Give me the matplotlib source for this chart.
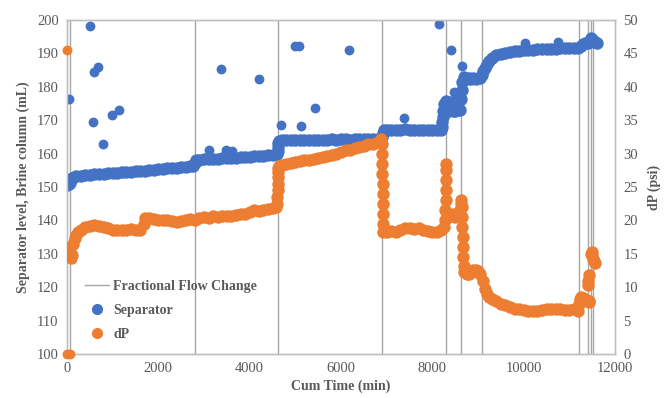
import matplotlib
matplotlib.use("Agg")
import matplotlib.pyplot as plt
from matplotlib.lines import Line2D

# ---- data ----
flow_change_min = [72, 2810, 4612, 6898, 8290, 8627, 9079, 11203, 11415, 11474, 11524]

# Separator level (mL), main track
sep_time = [0, 20, 40, 60, 80, 100, 150, 200, 300, 400, 500, 600, 700, 800, 900,
            1000, 1100, 1200, 1300, 1400, 1500, 1600, 1700, 1800, 1900, 2000,
            2100, 2200, 2300, 2400, 2500, 2600, 2700, 2760, 2800,
            2830, 2900, 3000, 3100, 3200, 3300, 3400, 3500, 3600, 3700, 3800,
            3900, 4000, 4100, 4200, 4300, 4400, 4500, 4590,
            4612, 4614, 4618, 4650, 4700, 4800, 4900, 5000, 5100, 5200, 5300,
            5400, 5500, 5600, 5700, 5800, 5900, 6000, 6100, 6200, 6300, 6400,
            6500, 6600, 6700, 6800, 6880,
            6900, 6910, 6950, 7000, 7100, 7200, 7300, 7400, 7500, 7600, 7700,
            7800, 7900, 8000, 8100, 8180,
            8210, 8220, 8230, 8240, 8250, 8300, 8350, 8400, 8450, 8500, 8550,
            8600, 8300, 8350, 8400, 8450, 8500, 8550, 8600,
            8630, 8640, 8650, 8700, 8750, 8800, 8850, 8900, 8950, 9000, 9050,
            9080, 9120, 9150, 9200, 9250, 9300, 9400, 9500, 9600, 9700, 9800,
            9900, 10000, 10100, 10200, 10300, 10400, 10500, 10600, 10700,
            10800, 10900, 11000, 11100, 11200,
            11250, 11300, 11350, 11400, 11450, 11480, 11520, 11560, 11600]
sep_level = [150.5, 151.3, 150.8, 151.2, 152.0, 152.6, 153.0, 153.2, 153.4, 153.6,
             153.7, 153.8, 153.9, 154.0, 154.1, 154.2, 154.3, 154.4, 154.5,
             154.6, 154.7, 154.8, 154.9, 155.0, 155.2, 155.4, 155.5, 155.6,
             155.7, 155.8, 155.9, 156.0, 156.2, 156.4, 157.2,
             158.0, 158.2, 158.3, 158.4, 158.4, 158.5, 158.6, 158.6, 158.7,
             158.8, 158.9, 159.0, 159.1, 159.2, 159.3, 159.4, 159.5, 159.6, 159.8,
             160.8, 162.0, 163.2, 163.8, 164.0, 164.0, 164.1, 164.0, 164.1,
             164.2, 164.1, 164.2, 164.2, 164.1, 164.2, 164.3, 164.2, 164.3,
             164.3, 164.2, 164.3, 164.4, 164.3, 164.4, 164.4, 164.3, 164.4,
             165.0, 166.2, 167.0, 167.1, 167.0, 167.2, 167.1, 167.3, 167.0,
             167.1, 167.0, 167.2, 167.0, 167.1, 167.0, 167.1,
             168.0, 169.5, 171.0, 172.8, 174.8, 175.8, 175.4, 175.6, 175.3,
             175.5, 175.8, 176.0, 172.6, 172.8, 173.0, 172.7, 172.9, 173.0, 173.2,
             176.5, 179.0, 181.5, 182.8, 182.4, 182.5, 182.3, 182.6, 182.4,
             182.5, 182.7, 183.4, 184.6, 185.6, 186.8, 187.8, 188.5, 189.4,
             189.9, 190.2, 190.4, 190.6, 190.8, 190.9, 191.0, 191.1, 191.2,
             191.3, 191.3, 191.4, 191.4, 191.5, 191.5, 191.6, 191.6, 191.7,
             192.3, 192.8, 193.0, 193.2, 193.5, 194.5, 194.0, 193.5, 193.1]

# Separator spikes away from the main track
sep_out_time = [50, 512, 569, 583, 670, 780, 977, 1145, 3120, 3480, 3620,
                3379, 4196, 4686, 4992, 5087, 5130, 5422, 6181, 7390,
                8152, 8408, 8470, 8640, 10035, 10760]
sep_out_level = [176.3, 198.2, 169.6, 184.4, 185.8, 162.9, 171.6, 173.1,
                 161.0, 161.0, 160.8, 185.3, 182.4, 168.7, 192.3, 192.3,
                 168.3, 173.6, 191.0, 170.6, 198.8, 191.0, 178.5, 186.3,
                 193.0, 193.3]

# dP (psi), isolated readings
dp_out_time = [0, 0, 60]
dp_out_psi = [45.5, 0.0, 0.0]

# dP (psi), main track
dp_time = [0, 30, 60, 90, 110, 140, 170, 200, 250, 300, 400, 500, 600,
           700, 800, 900, 1000, 1100, 1200, 1300, 1400, 1500, 1600, 1680,
           1700, 1800, 1900, 2000, 2100, 2200, 2300, 2400, 2500, 2600, 2700,
           2800, 2900, 3000, 3100, 3200, 3300, 3400, 3500, 3600, 3700, 3800,
           3900, 4000, 4100, 4200, 4300, 4400, 4500, 4580,
           4605, 4608, 4610, 4612, 4614, 4616, 4620, 4650, 4700, 4800, 4900,
           5000, 5100, 5200, 5300, 5400, 5500, 5600, 5700, 5800, 5900, 6000,
           6100, 6200, 6300, 6400, 6500, 6600, 6700, 6800, 6870,
           6905, 6905, 6908, 6908, 6910, 6910, 6912, 6912, 6915, 6930,
           7000, 7100, 7200, 7300, 7400, 7500, 7600, 7700, 7800, 7900, 8000,
           8100, 8200, 8250,
           8285, 8288, 8290, 8292, 8294, 8296, 8298, 8320, 8350, 8400, 8450,
           8500, 8550, 8600, 8620, 8630,
           8650, 8655, 8660, 8665, 8670, 8680, 8690, 8700, 8750, 8800, 8850,
           8900, 8950, 9000, 9050,
           9100, 9150, 9200, 9250, 9300, 9400, 9500, 9600, 9700, 9800, 9900,
           10000, 10100, 10200, 10300, 10400, 10500, 10600, 10700, 10800,
           10900, 11000, 11100, 11180,
           11210, 11230, 11260, 11300, 11340, 11380, 11420, 11440,
           11410, 11415, 11420, 11480, 11490, 11500, 11520, 11540, 11560]
dp_psi = [15.8, 15.5, 15.0, 14.3, 14.8, 16.5, 17.4, 17.8, 18.3,
          18.6, 19.0, 19.2, 19.3, 19.2, 19.0, 18.8, 18.6, 18.5, 18.5, 18.6,
          18.7, 18.5, 18.6, 19.5, 20.3, 20.4, 20.2, 20.0, 20.1, 20.0, 19.9,
          19.8, 19.9, 20.0, 20.2, 20.0, 20.4, 20.5, 20.4, 20.6, 20.5, 20.6,
          20.7, 20.6, 20.8, 20.9, 21.0, 21.2, 21.5, 21.4, 21.6, 21.7, 21.9, 22.0,
          22.5, 23.5, 24.5, 25.5, 26.5, 27.3, 27.9, 28.2, 28.3, 28.5, 28.6,
          28.7, 28.9, 29.0, 29.1, 29.2, 29.4, 29.5, 29.7, 29.8, 30.0, 30.3,
          30.5, 30.6, 30.8, 31.0, 31.2, 31.4, 31.5, 31.8, 32.2,
          31.5, 30.0, 28.5, 27.0, 25.5, 24.0, 22.5, 21.0, 19.5, 18.3,
          18.2, 18.4, 18.3, 18.6, 18.8, 18.9, 18.7, 18.8, 18.5, 18.4, 18.3,
          18.2, 18.5, 19.0,
          20.0, 21.5, 23.0, 24.5, 26.0, 27.5, 28.5, 21.0, 20.5, 20.8, 21.0,
          20.5, 21.0, 21.5, 22.5, 23.0,
          22.0, 20.5, 19.0, 17.5, 16.0, 14.5, 13.2, 12.2, 11.9, 12.0, 12.3,
          12.5, 12.5, 12.4, 12.0,
          11.0, 9.8, 9.0, 8.6, 8.3, 7.9, 7.5, 7.3, 7.0, 6.8, 6.7,
          6.6, 6.5, 6.4, 6.4, 6.6, 6.8, 6.8, 6.7, 6.7,
          6.6, 6.6, 6.7, 6.5,
          7.5, 8.2, 8.5, 8.4, 8.2, 8.0, 7.8, 7.9,
          10.3, 11.0, 11.8, 15.0, 15.2, 14.8, 14.2, 13.9, 13.6]

BLUE = "#4472C4"
ORANGE = "#ED7D31"
GRID = "#BFBFBF"
TXT = "#595959"
SERIF = ["Liberation Serif", "DejaVu Serif"]

plt.rcParams["font.family"] = SERIF

fig = plt.figure(figsize=(6.72, 3.98), dpi=100)
ax = fig.add_axes([0.0997, 0.1106, 0.8155, 0.8391])
ax2 = ax.twinx()

for t in flow_change_min:
    ax.axvline(t, color="#A6A6A6", lw=1.0, zorder=1)

# dense logger tracks look thicker than the lone spikes
ax.scatter(sep_time, sep_level, s=80, color=BLUE, linewidths=0, zorder=3)
ax.scatter(sep_out_time, sep_out_level, s=50, color=BLUE, linewidths=0, zorder=3)
ax2.scatter(dp_time, dp_psi, s=80, color=ORANGE, linewidths=0, zorder=3)
ax2.scatter(dp_out_time, dp_out_psi, s=50, color=ORANGE, linewidths=0,
            zorder=3, clip_on=False)

ax.set_xlim(0, 12000)
ax.set_ylim(100, 200)
ax2.set_ylim(0, 50)
ax.set_xticks(range(0, 12001, 2000))
ax.set_yticks(range(100, 201, 10))
ax2.set_yticks(range(0, 51, 5))

for a in (ax, ax2):
    for sp in a.spines.values():
        sp.set_color(GRID)
        sp.set_linewidth(1.0)
    a.tick_params(length=0, labelsize=10.5, labelcolor=TXT, pad=6)

ax.set_xlabel("Cum Time (min)", fontsize=10, fontweight="bold", color=TXT,
              labelpad=3)
ax.set_ylabel("Separator level, Brine column (mL)", fontsize=10,
              fontweight="bold", color=TXT, labelpad=5)
ax2.set_ylabel("dP (psi)", fontsize=10, fontweight="bold", color=TXT,
               labelpad=7)

handles = [
    Line2D([], [], color="#A6A6A6", lw=1.0),
    Line2D([], [], marker="o", ls="none", color=BLUE, markersize=7),
    Line2D([], [], marker="o", ls="none", color=ORANGE, markersize=7),
]
leg = ax2.legend(handles, ["Fractional Flow Change", "Separator", "dP"],
                 loc="upper left", bbox_to_anchor=(0.01, 0.258), frameon=False,
                 prop={"family": SERIF, "weight": "bold", "size": 10},
                 labelcolor=TXT, handlelength=1.7, handletextpad=0.35,
                 labelspacing=0.78)

fig.savefig("out.png", dpi=100)
